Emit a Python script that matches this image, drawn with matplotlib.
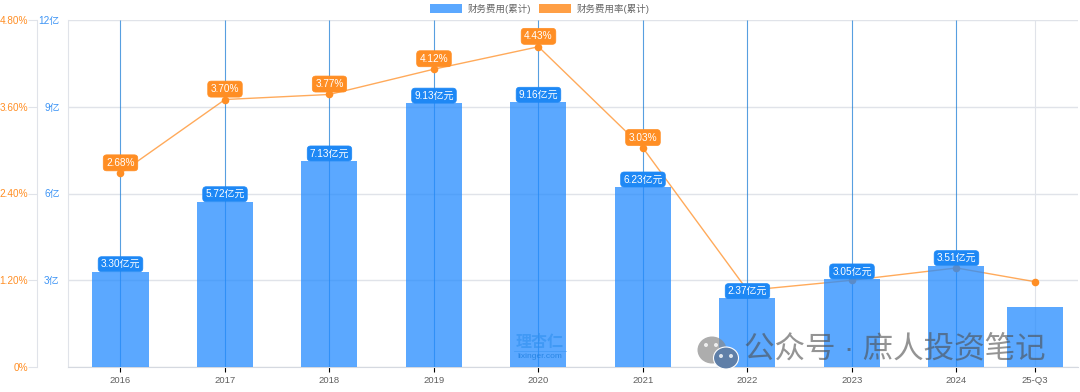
import numpy as np
import matplotlib
matplotlib.use('Agg')
import matplotlib.pyplot as plt
from matplotlib.patches import Ellipse, Patch

plt.rcParams['font.family'] = ['Liberation Sans', 'Noto Sans CJK SC', 'DejaVu Sans']

categories = ['2016', '2017', '2018', '2019', '2020', '2021', '2022', '2023', '2024', '25-Q3']
expense = [3.30, 5.72, 7.13, 9.13, 9.16, 6.23, 2.37, 3.05, 3.51, 2.07]
rate = [2.68, 3.70, 3.77, 4.12, 4.43, 3.03, 1.06, 1.20, 1.37, 1.18]
expense_labels = ['3.30亿元', '5.72亿元', '7.13亿元', '9.13亿元', '9.16亿元', '6.23亿元', '2.37亿元', '3.05亿元', '3.51亿元', '']
rate_labels = ['2.68%', '3.70%', '3.77%', '4.12%', '4.43%', '3.03%', '', '', '', '']
expense_ticks = [0, 3, 6, 9, 12]
expense_tick_labels = ['', '3亿', '6亿', '9亿', '12亿']
rate_ticks = [0, 1.2, 2.4, 3.6, 4.8]
rate_tick_labels = ['0%', '1.20%', '2.40%', '3.60%', '4.80%']

BLUE = '#248BFF'
ORANGE = '#FF8E24'
GRID = '#E0E3E9'
W, H = 1080, 392

# the last category sits closer to 2024 in the reference
xs = np.arange(len(categories), dtype=float)
xs[-1] = 8.75

fig = plt.figure(figsize=(W / 100, H / 100), dpi=100)
ax2 = fig.add_axes([68 / W, 1 - 367 / H, (1078 - 68) / W, (367 - 20) / H])
ax = ax2.twinx()
ax.set_zorder(2)
ax2.set_zorder(1)
ax.patch.set_visible(False)

ax2.plot(xs, rate, color=ORANGE, lw=1, alpha=0.75, zorder=3)

# stacking on ax: vlines, rate dots, bars, labels (bars tint what is under them)
for i, x in enumerate(xs):
    if i == len(xs) - 1:
        ax.vlines(x, 0, 12, color=GRID, lw=0.8, zorder=2)
    else:
        ax.vlines(x, 0, 12, color='#1F7FD6', lw=0.8, alpha=0.75, zorder=2)
ax.scatter(xs, rate, s=30, color=ORANGE, zorder=3, linewidths=0, transform=ax2.transData)
ax.bar(xs, expense, width=0.536, color=BLUE, alpha=0.75, zorder=4)

for x, y, s in zip(xs, rate, rate_labels):
    if s:
        ax.annotate(s, (x, y), xycoords=ax2.transData, xytext=(0, 7.5), textcoords='offset points', ha='center', va='center',
                    fontsize=7.2, color='white', zorder=5, annotation_clip=False,
                    bbox=dict(boxstyle='round,pad=0.3,rounding_size=0.35', fc=ORANGE, ec=ORANGE, lw=0.5))
for x, y, s in zip(xs, expense, expense_labels):
    if s:
        ax.annotate(s, (x, y), xytext=(0, 5.3), textcoords='offset points', ha='center', va='center',
                    fontsize=7.2, color='white', zorder=5, annotation_clip=False,
                    bbox=dict(boxstyle='round,pad=0.25,rounding_size=0.35', fc='#1E88F5', ec='#1E88F5', lw=0.5))

ax.set_xlim(-0.5024, 9.163)
ax.set_ylim(0, 12)
ax2.set_ylim(0, 4.8)

ax2.yaxis.tick_left()
ax2.set_yticks(rate_ticks)
ax2.set_yticklabels(rate_tick_labels)
ax2.tick_params(axis='y', length=6.5, width=0.8, color=GRID, pad=0, direction='out', labelsize=7.2, labelcolor=ORANGE)
ax2.spines['left'].set_position(('outward', 22.3))
ax2.spines['left'].set_color(GRID)
ax2.spines['right'].set_visible(False)
ax2.spines['top'].set_visible(False)
ax2.spines['bottom'].set_visible(False)
ax2.grid(axis='y', color=GRID, lw=1, zorder=0)
ax2.set_axisbelow(True)

# twinx hides the x axis of ax, so the category labels live on ax2
ax2.set_xticks(xs)
ax2.set_xticklabels(categories)
ax2.tick_params(axis='x', length=3.5, width=0.8, pad=3, labelsize=6.8, labelcolor='#606060')
for i, t in enumerate(ax2.xaxis.get_major_ticks()):
    t.tick1line.set_color(GRID if i == len(xs) - 1 else '#5A9FE0')

ax.yaxis.tick_left()
ax.set_yticks(expense_ticks)
ax.set_yticklabels(expense_tick_labels)
ax.tick_params(axis='y', length=0, pad=6, labelsize=7.2, labelcolor='#3D94F5')
for side in ['top', 'right']:
    ax.spines[side].set_visible(False)
ax.spines['left'].set_color(GRID)
ax.spines['bottom'].set_color('#D5D9E0')

# legend
handles = [Patch(fc=BLUE, alpha=0.75, label='财务费用(累计)'), Patch(fc=ORANGE, alpha=0.85, label='财务费用率(累计)')]
fig.legend(handles=handles, ncols=2, loc='upper center', bbox_to_anchor=(539.5 / W, 1 + 4 / H), frameon=False,
           fontsize=6.8, labelcolor='#666666', handlelength=3.4, handleheight=1.2, handletextpad=0.6,
           columnspacing=0.8, borderpad=0.3)

# watermarks
def fx(px):
    return px / W

def fy(py):
    return 1 - py / H

ax.text(fx(540), fy(343), '理杏仁', transform=fig.transFigure, fontsize=11.5, color='#2F8FEF', alpha=0.6,
        ha='center', va='center', fontweight='bold', zorder=6)
ax.plot([fx(514), fx(566)], [fy(351), fy(351)], transform=fig.transFigure, color='#2F8FEF', alpha=0.5, lw=0.6, zorder=6, clip_on=False)
ax.text(fx(540), fy(356), 'lixinger.com', transform=fig.transFigure, fontsize=6, color='#1F7FE0', alpha=0.85,
        ha='center', va='center', zorder=6)

ax.add_patch(Ellipse((fx(712), fy(350)), 29 / W, 27 / H, transform=fig.transFigure, fc='#8A8A8A', alpha=0.7, ec='none', zorder=6, clip_on=False))
ax.add_patch(Ellipse((fx(726), fy(358)), 25 / W, 22 / H, transform=fig.transFigure, fc='#5F7FA8', ec='white', lw=0.8, zorder=6, clip_on=False))
for ex, ey in [(706, 345), (716, 345), (721, 356), (731, 356)]:
    ax.add_patch(Ellipse((fx(ex), fy(ey)), 4 / W, 4 / H, transform=fig.transFigure, fc='white', alpha=0.8, ec='none', zorder=7, clip_on=False))
ax.text(fx(895), fy(349), '公众号 · 庶人投资笔记', transform=fig.transFigure, fontsize=22, color='#4D4D4D', alpha=0.6,
        ha='center', va='center', zorder=6)

fig.savefig('out.png', dpi=100)
